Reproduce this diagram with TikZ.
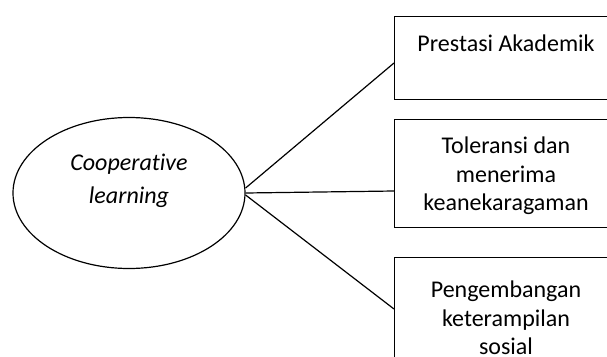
\documentclass[tikz,border=0pt]{standalone}
\usepackage{fontspec}
\setmainfont{Carlito}[Ligatures={NoCommon}]
\usetikzlibrary{shapes.geometric,calc}
\tikzset{
  line/.style={line width=1.2pt},
  boxnode/.style={draw, line width=1.2pt, anchor=north west, minimum width=260pt, inner sep=0pt},
  txt/.style={align=center, font=\fontsize{24}{28.5}\selectfont, inner sep=0pt}
}
\begin{document}
\begin{tikzpicture}[x=1pt,y=-1pt]
\useasboundingbox (0,0) rectangle (607,356);
\clip (0,0) rectangle (607,356);
\node[draw, ellipse, line width=1.2pt, minimum width=232pt, minimum height=151pt, inner sep=0pt] (c) at (129,193) {};
\node[txt, font=\fontsize{24}{33}\selectfont\itshape] (ct) at (129,181) {Cooperative\\learning};
\node[boxnode, minimum height=83pt] (b1) at (394,16) {};
\node[boxnode, minimum height=108pt] (b2) at (394,119) {};
\node[boxnode, minimum height=130pt] (b3) at (394,257) {};
\node[txt] (t1) at (506,43) {Prestasi Akademik};
\node[txt] (t2) at (506,176) {Toleransi dan\\menerima\\keanekaragaman};
\node[txt] (t3) at (506,318) {Pengembangan\\keterampilan\\sosial};
\coordinate (p1) at ($(b1.north west)+(0,47)$);
\coordinate (p2) at ($(b2.north west)+(0,72)$);
\coordinate (p3) at ($(b3.north west)+(0,52)$);
\draw[line] ($(c.east)+(0,-5)$) -- (p1);
\draw[line] (c.east) -- (p2);
\draw[line] ($(c.east)+(0,2)$) -- (p3);
\end{tikzpicture}
\end{document}
